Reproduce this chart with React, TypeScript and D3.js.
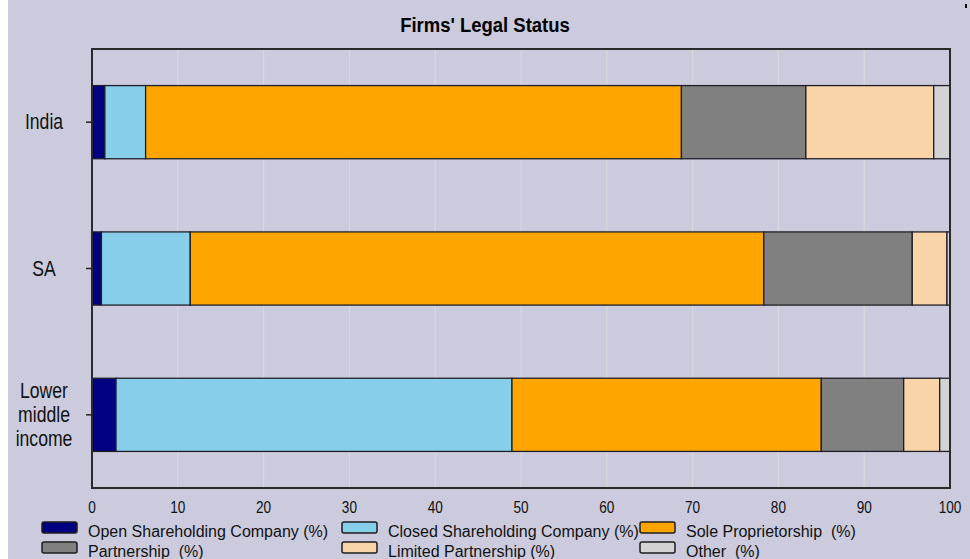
import React from "react";
import * as d3 from "d3";

const categories = ["India", "SA", "Lower middle income"];
const seriesNames = [
  "Open Shareholding Company (%)",
  "Closed Shareholding Company (%)",
  "Sole Proprietorship  (%)",
  "Partnership  (%)",
  "Limited Partnership (%)",
  "Other  (%)",
];
const openShare = [1.5, 1.1, 2.8];
const closedShare = [4.75, 10.35, 46.15];
const soleProp = [62.45, 66.85, 36.05];
const partnership = [14.5, 17.3, 9.6];
const limitedPart = [14.9, 4.05, 4.2];
const other = [1.9, 0.35, 1.2];
const seriesValues = [openShare, closedShare, soleProp, partnership, limitedPart, other];
const colors = ["#000080", "#87ceeb", "#ffa500", "#808080", "#f8d4a8", "#d3d3d3"];
const xTicks = [0, 10, 20, 30, 40, 50, 60, 70, 80, 90, 100];
const title = "Firms' Legal Status";

const W = 970;
const H = 559;
const BG = "#cbcbdd";
const FONT = "'Liberation Sans', Arial, sans-serif";

export default function App() {
  const x = d3.scaleLinear().domain([0, 100]).range([92, 950]);
  const y = d3
    .scaleBand<string>()
    .domain(categories)
    .range([49, 488])
    .paddingInner(0.5)
    .paddingOuter(0.25);

  const rows = categories.map((c, i) => {
    const o: any = { cat: c };
    seriesNames.forEach((s, j) => (o[s] = seriesValues[j][i]));
    return o;
  });
  const stacked = d3.stack<any>().keys(seriesNames)(rows);

  const legendCols = [42, 342, 640];
  const legendRows = [522, 542];

  return (
    <svg
      width={W}
      height={H}
      style={{ position: "absolute", left: 0, top: 0, display: "block" }}
      fontFamily={FONT}
    >
      <rect x={0} y={0} width={W} height={H} fill={BG} />
      <rect x={0} y={0} width={8} height={H} fill="#ffffff" />
      <rect x={965} y={4} width={2} height={4} fill="#000" />

      {/* title */}
      <text
        transform={`translate(485,32) scale(0.88,1)`}
        textAnchor="middle"
        fontSize={21}
        fontWeight="bold"
        fill="#000"
      >
        {title}
      </text>

      {/* grid */}
      {xTicks.slice(1, -1).map((t) => (
        <line key={t} x1={x(t)} x2={x(t)} y1={49} y2={488} stroke="#d8d8dc" strokeWidth={1.2} />
      ))}

      {/* bars */}
      {stacked.map((layer, j) => (
        <g key={layer.key}>
          {layer.map((d, i) => (
            <rect
              key={i}
              x={x(d[0])}
              y={y(categories[i])!}
              width={x(d[1]) - x(d[0])}
              height={y.bandwidth()}
              fill={colors[j]}
              stroke="#1e1e28"
              strokeWidth={1.3}
            />
          ))}
        </g>
      ))}

      {/* plot border */}
      <rect x={92} y={49} width={858} height={439} fill="none" stroke="#2a2a2a" strokeWidth={2} />

      {/* y ticks and labels */}
      {categories.map((c) => {
        const cy = y(c)! + y.bandwidth() / 2;
        const words = c === "Lower middle income" ? c.split(" ") : [c];
        const lh = 24;
        const start = cy + 7 - ((words.length - 1) * lh) / 2;
        return (
          <g key={c}>
            <line x1={86} x2={92} y1={cy} y2={cy} stroke="#222" strokeWidth={1.5} />
            {words.map((w, k) => (
              <text
                key={k}
                transform={`translate(44,${start + k * lh}) scale(0.8,1)`}
                textAnchor="middle"
                fontSize={22}
                fill="#111"
              >
                {w}
              </text>
            ))}
          </g>
        );
      })}

      {/* x tick labels */}
      {xTicks.map((t) => (
        <text
          key={t}
          transform={`translate(${x(t)},513) scale(0.85,1)`}
          textAnchor="middle"
          fontSize={16}
          fill="#111"
        >
          {t}
        </text>
      ))}

      {/* legend */}
      {seriesNames.map((s, j) => {
        const col = j % 3;
        const row = Math.floor(j / 3);
        const lx = legendCols[col];
        const ly = legendRows[row];
        return (
          <g key={s}>
            <rect
              x={lx}
              y={ly}
              width={35}
              height={11}
              rx={2}
              fill={colors[j]}
              stroke="#1e1e1e"
              strokeWidth={1.5}
            />
            <text
              x={lx + 46}
              y={ly + 15}
              fontSize={16}
              fill="#111"
              style={{ whiteSpace: "pre" }}
            >
              {s}
            </text>
          </g>
        );
      })}
    </svg>
  );
}
